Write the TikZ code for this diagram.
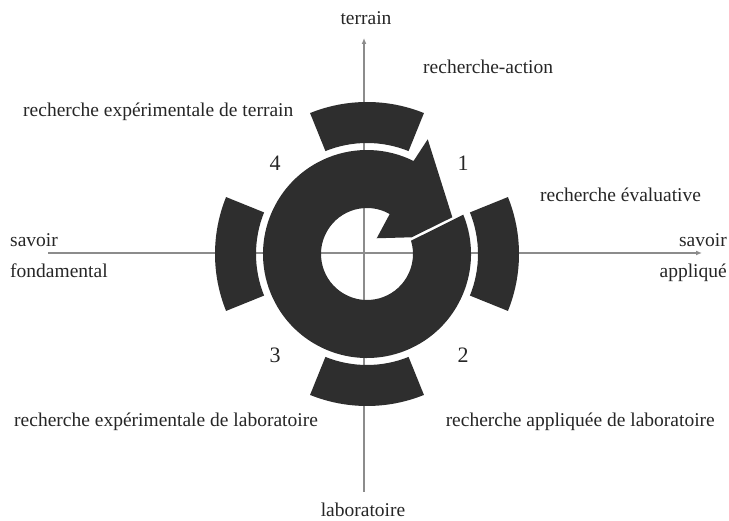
\documentclass[tikz,border=0pt]{standalone}
\usepackage{fontspec}
\setmainfont{Liberation Serif}
\usetikzlibrary{arrows.meta}
\definecolor{ink}{HTML}{2E2E2E}
\definecolor{axisgray}{HTML}{8C8C8C}
\definecolor{txt}{HTML}{262626}
\begin{document}
\begin{tikzpicture}[x=1pt,y=-1pt,
  lbl/.style={inner sep=0pt, font=\fontsize{19.5}{23}\selectfont, text=txt},
  num/.style={inner sep=0pt, font=\fontsize{22}{26}\selectfont, text=txt},
  axisline/.style={draw=axisgray, line width=1.8pt},
  axistip/.style={-{Latex[length=6pt,width=5pt]}},
  blob/.style={fill=ink}]
\useasboundingbox (0,0) rectangle (729,521);

% axes
\coordinate (top) at (364,38);
\coordinate (bot) at (364,492);
\coordinate (lft) at (48,253);
\coordinate (rgt) at (702,253);
\draw[axisline, axistip] (bot) -- (top);
\draw[axisline, axistip] (lft) -- (rgt);

% wheel
\begin{scope}[shift={(367,254)}, yscale=-1]
  \foreach \a in {0,90,180,270}{
    \fill[blob] (\a-22:111) arc[start angle=\a-22, end angle=\a+22, radius=111]
      -- (\a+22:152) arc[start angle=\a+22, end angle=\a-22, radius=152] -- cycle;
  }
  \fill[blob] (16.8:46) -- (22.2:104) arc[start angle=22.2, end angle=-296.6, radius=104]
    -- (62.1:129.8) -- (23.3:92.9) -- (20.5:47.7) -- (58.3:18.5) -- (60.4:46)
    arc[start angle=60.4, end angle=376.8, radius=46] -- cycle;
\end{scope}

% labels
\node[lbl, anchor=base] (terrain) at (366,25) {terrain};
\node[lbl, anchor=base] (labo) at (363,516) {laboratoire};
\node[lbl, anchor=base west] (ra) at (423,74) {recherche-action};
\node[lbl, anchor=base west] (ret) at (23,117) {recherche expérimentale de terrain};
\node[lbl, anchor=base west] (rev) at (540,201.5) {recherche évaluative};
\node[lbl, anchor=base west] (sf1) at (10,247) {savoir};
\node[lbl, anchor=base west] (sf2) at (10,278) {fondamental};
\node[lbl, anchor=base east] (sa1) at (727,247) {savoir};
\node[lbl, anchor=base east] (sa2) at (727,278) {appliqué};
\node[lbl, anchor=base west] (rel) at (14,427) {recherche expérimentale de laboratoire};
\node[lbl, anchor=base east] (ral) at (715,427) {recherche appliquée de laboratoire};
\node[num, anchor=base] (n1) at (463,170.5) {1};
\node[num, anchor=base] (n4) at (275,170.5) {4};
\node[num, anchor=base] (n2) at (463,363) {2};
\node[num, anchor=base] (n3) at (275,363) {3};
\end{tikzpicture}
\end{document}
